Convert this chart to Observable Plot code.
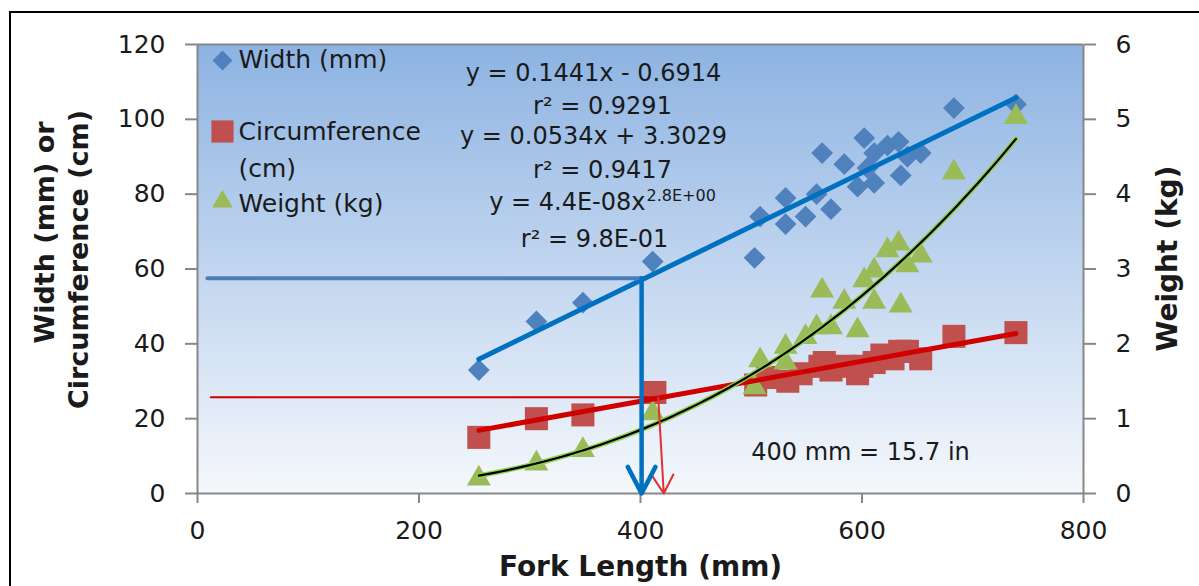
<!DOCTYPE html>
<html><head><meta charset="utf-8">
<script src="https://cdn.jsdelivr.net/npm/d3@7"></script>
<script src="https://cdn.jsdelivr.net/npm/@observablehq/plot@0.6"></script>
<style>
body{margin:0;background:#fff;}
#wrap{position:relative;width:1199px;height:586px;overflow:hidden;background:#fff;}
#border{position:absolute;left:9px;top:11px;width:1300px;height:700px;border-left:2px solid #000;border-top:2px solid #000;}
#chart{position:absolute;left:0;top:0;}
</style></head><body>
<div id="wrap"><div id="border"></div><div id="chart"></div></div>
<script>
// ---- data (fork length mm, value) ----
const widthPoints = [[254,33],[306,46],[348,51],[411,62],[503,63],[508,74],[531,79],[531,72],[549,74],[559,80],[564,91],[572,76],[584,88],[596,82],[602,95],[605,87],[611,83],[611,91],[623,93],[633,94],[635,85],[641,90],[653,91],[683,103],[739,104]];
const circPoints = [[254,15],[306,20],[348,21],[413,27],[504,29],[515,31],[533,30],[545,32],[562,34],[566,35],[572,33],[585,34],[596,32],[600,34],[611,35],[618,37],[628,36],[634,38],[641,38],[653,36],[683,42],[739,43]];
const weightPoints = [[254,0.2],[306,0.4],[348,0.58],[411,1.07],[503,1.42],[508,1.78],[531,1.96],[531,1.75],[549,2.09],[559,2.22],[564,2.71],[572,2.22],[584,2.56],[596,2.18],[602,2.85],[611,2.56],[611,2.98],[623,3.25],[633,3.34],[635,2.51],[641,3.05],[653,3.18],[683,4.29],[739,5.03]];
const widthFit = [0.1441, -0.6914];   // slope, intercept
const circFit = [0.0534, 3.3029];     // slope, intercept
const weightFit = [4.4e-8, 2.8];      // coefficient, exponent
const fitRange = [254, 739];
const widthGuide = [[9,57.5],[401,57.5]];
const widthArrow = [[401,57.5,401,0]];
const circGuide = [[12,25.7],[416,25.7]];
const circArrow = [[416,25.7,421,0]];
const xTicks = [0,200,400,600,800];
const yTicksLeft = [0,20,40,60,80,100,120];
const yTicksRight = [0,1,2,3,4,5,6];
const weightScale = 20; // 6 kg on the right axis = 120 on the left axis
const legendLabels = ["Width (mm)", "Circumference", "(cm)", "Weight (kg)"];
const eqLabels = ["y = 0.1441x - 0.6914", "r² = 0.9291", "y = 0.0534x + 3.3029", "r² = 0.9417", "y = 4.4E-08x", "2.8E+00", "r² = 9.8E-01"];
const noteLabel = "400 mm = 15.7 in";
const titles = {x: "Fork Length (mm)", y1: "Width (mm) or", y2: "Circumference (cm)", y3: "Weight (kg)"};

// ---- derived ----
const linFit = (f) => fitRange.map(x => [x, f[0]*x + f[1]]);
const weightCurve = d3.range(fitRange[0], fitRange[1] + 1, 5).concat([fitRange[1]]).map(x => [x, weightFit[0]*Math.pow(x, weightFit[1])*weightScale]);
const weightPlot = weightPoints.map(d => [d[0], d[1]*weightScale]);

const ML = 197, MT = 44, MR = 116, MB = 93, W = 1199, H = 586;
const FONT = "DejaVu Sans";
const txt = (s, px, py, o = {}) => Plot.text([s], {text: d => d, frameAnchor: "top-left", dx: px - ML, dy: py - MT, lineAnchor: "middle", textAnchor: "middle", fontSize: 25, fill: "#1a1a1a", ...o});
const axisStroke = "#878787";

const chart = Plot.plot({
  width: W, height: H,
  marginLeft: ML, marginRight: MR, marginTop: MT, marginBottom: MB,
  x: {domain: [0, 800]},
  y: {domain: [0, 120]},
  style: {fontFamily: FONT, fontSize: "25px", color: "#1a1a1a", background: "transparent", overflow: "visible"},
  marks: [
    Plot.frame({fill: "url(#bgGrad)", stroke: "none"}),
    Plot.ruleY([0, 120], {stroke: axisStroke, strokeWidth: 2}),
    Plot.ruleX([0, 800], {stroke: axisStroke, strokeWidth: 2}),
    Plot.axisX(xTicks, {anchor: "bottom", tickSize: 10, tickPadding: 18, stroke: axisStroke, strokeWidth: 2, fill: "#1a1a1a", fontSize: 25, label: null}),
    Plot.axisY(yTicksLeft, {anchor: "left", tickSize: 12, tickPadding: 20, stroke: axisStroke, strokeWidth: 2, fill: "#1a1a1a", fontSize: 25, label: null}),
    Plot.axisY(yTicksRight.map(v => v*weightScale), {anchor: "right", tickSize: 12, tickPadding: 20, stroke: axisStroke, strokeWidth: 2, fill: "#1a1a1a", fontSize: 25, label: null, tickFormat: d => d/weightScale}),
    // markers
    Plot.dot(widthPoints, {x: d => d[0], y: d => d[1], symbol: "diamond2", r: 9.8, fill: "#4f81bd"}),
    Plot.dot(circPoints, {x: d => d[0], y: d => d[1], symbol: "square", r: 13, fill: "#c0504d"}),
    Plot.dot(weightPlot, {x: d => d[0], y: d => d[1], symbol: "triangle", r: 8.9, fill: "#9bbb59"}),
    // trend lines
    Plot.line(linFit(widthFit), {x: d => d[0], y: d => d[1], stroke: "#0070c0", strokeWidth: 5}),
    Plot.line(linFit(circFit), {x: d => d[0], y: d => d[1], stroke: "#d00000", strokeWidth: 5}),
    Plot.line(weightCurve, {x: d => d[0], y: d => d[1], stroke: "#92d050", strokeWidth: 5}),
    Plot.line(weightCurve, {x: d => d[0], y: d => d[1], stroke: "#000", strokeWidth: 2.2}),
    // guides
    Plot.line(circGuide, {x: d => d[0], y: d => d[1], stroke: "#d00000", strokeWidth: 2}),
    Plot.arrow(circArrow, {x1: d => d[0], y1: d => d[1], x2: d => d[2], y2: d => d[3], stroke: "#e03030", strokeWidth: 2, headLength: 16, headAngle: 60}),
    Plot.line(widthGuide, {x: d => d[0], y: d => d[1], stroke: "#4a7ebb", strokeWidth: 4}),
    Plot.arrow(widthArrow, {x1: d => d[0], y1: d => d[1], x2: d => d[2], y2: d => d[3], stroke: "#0070c0", strokeWidth: 4.5, headLength: 10, headAngle: 55}),
    // legend
    Plot.dot([0], {frameAnchor: "top-left", dx: 222 - ML, dy: 60 - MT, symbol: "diamond2", r: 9, fill: "#4f81bd"}),
    Plot.dot([0], {frameAnchor: "top-left", dx: 222 - ML, dy: 131 - MT, symbol: "square", r: 12.5, fill: "#c0504d"}),
    Plot.dot([0], {frameAnchor: "top-left", dx: 222 - ML, dy: 201 - MT, symbol: "triangle", r: 7.6, fill: "#9bbb59"}),
    txt(legendLabels[0], 238, 59, {textAnchor: "start"}),
    txt(legendLabels[1], 238, 131, {textAnchor: "start"}),
    txt(legendLabels[2], 238, 168, {textAnchor: "start"}),
    txt(legendLabels[3], 238, 203, {textAnchor: "start"}),
    // equations
    txt(eqLabels[0], 593, 73, {fontSize: 24}),
    txt(eqLabels[1], 602, 106, {fontSize: 24}),
    txt(eqLabels[2], 593, 136, {fontSize: 24}),
    txt(eqLabels[3], 602, 170, {fontSize: 24}),
    txt(eqLabels[4], 645, 202, {textAnchor: "end", fontSize: 24}),
    txt(eqLabels[5], 646, 195, {textAnchor: "start", fontSize: 16}),
    txt(eqLabels[6], 594, 239, {fontSize: 24}),
    txt(noteLabel, 860, 452, {fontSize: 24}),
    // axis titles
    txt(titles.x, 640, 567, {fontWeight: "bold", fontSize: 28}),
    txt(titles.y1, 45, 232, {fontWeight: "bold", fontSize: 27, rotate: -90}),
    txt(titles.y2, 79, 259, {fontWeight: "bold", fontSize: 27, rotate: -90}),
    txt(titles.y3, 1168, 258, {fontWeight: "bold", fontSize: 28, rotate: -90})
  ]
});
d3.select(chart).insert("defs", ":first-child").html(
  '<linearGradient id="bgGrad" x1="0" y1="0" x2="0" y2="1">' +
  '<stop offset="0" stop-color="#8db3e2"/><stop offset="1" stop-color="#f5f8fc"/></linearGradient>');
document.getElementById("chart").appendChild(chart);
</script>
</body></html>
